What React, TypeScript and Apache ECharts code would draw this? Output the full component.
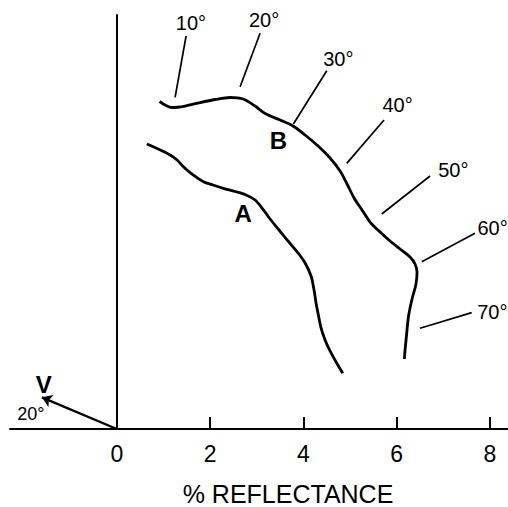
import React, { useEffect, useRef } from "react";
import * as echarts from "echarts";

// Curve B (data units: % reflectance, x horizontal, y vertical)
const curveB: [number, number][] = [
  [0.917, 7.019], [1.035, 6.944], [1.185, 6.89], [1.464, 6.922], [1.785, 6.997],
  [2.107, 7.062], [2.428, 7.105], [2.707, 7.072], [2.964, 6.922], [3.178, 6.762],
  [3.5, 6.622], [3.778, 6.494], [4.036, 6.301], [4.314, 6.065], [4.571, 5.808],
  [4.786, 5.529], [4.936, 5.251], [5.086, 4.951], [5.257, 4.694], [5.429, 4.436],
  [5.643, 4.222], [5.857, 4.029], [6.072, 3.858], [6.286, 3.686], [6.393, 3.536],
  [6.436, 3.365], [6.414, 3.108], [6.329, 2.786], [6.254, 2.422], [6.211, 2.015],
  [6.179, 1.693], [6.164, 1.5],
];

// Curve A
const curveA: [number, number][] = [
  [0.643, 6.108], [0.885, 6.001], [1.142, 5.872], [1.292, 5.765], [1.427, 5.622],
  [1.635, 5.444], [1.856, 5.3], [2.064, 5.229], [2.285, 5.159], [2.535, 5.09],
  [2.771, 5.015], [2.964, 4.908], [3.114, 4.736], [3.285, 4.501], [3.478, 4.265],
  [3.671, 4.029], [3.886, 3.772], [4.036, 3.558], [4.164, 3.279], [4.228, 2.979],
  [4.271, 2.7], [4.325, 2.422], [4.378, 2.165], [4.464, 1.907], [4.571, 1.672],
  [4.7, 1.436], [4.844, 1.194],
];

// Angle marks
const angleLabels = ["10°", "20°", "30°", "40°", "50°", "60°", "70°"];
const angleTickInner: [number, number][] = [
  [1.249, 7.109], [2.643, 7.336], [3.785, 6.537], [4.929, 5.694],
  [5.679, 4.608], [6.537, 3.586], [6.5, 2.158],
];
const angleTickOuter: [number, number][] = [
  [1.485, 8.423], [3.071, 8.481], [4.501, 7.679], [5.729, 6.622],
  [6.715, 5.422], [7.679, 4.194], [7.608, 2.493],
];
const angleLabelPos: [number, number][] = [
  [1.588, 8.701], [3.157, 8.766], [4.749, 7.934], [6.018, 6.944],
  [7.214, 5.551], [8.054, 4.301], [8.05, 2.514],
];

// Incident beam
const beamStart: [number, number] = [0, 0];
const beamEnd: [number, number] = [-1.607, 0.679];
const beamLabel = "V";
const beamLabelPos: [number, number] = [-1.565, 0.964];
const beamAngleLabel = "20°";
const beamAngleLabelPos: [number, number] = [-1.841, 0.317];

// Curve names
const curveNames = ["A", "B"];
const curveNamePos: [number, number][] = [[2.707, 4.623], [3.463, 6.183]];

// Axis
const xTickLabels = [0, 2, 4, 6, 8];
const xTickMarks = [2, 4, 6, 8];
const xAxisTitle = "% REFLECTANCE";

const FONT = "Liberation Sans";

export default function App() {
  const ref = useRef<HTMLDivElement>(null);
  useEffect(() => {
    document.body.style.margin = "0";
    if (!ref.current) return;
    const chart = echarts.init(ref.current, null, { renderer: "svg" });
    const lineStyle = { color: "#000", width: 2.8 };
    chart.setOption({
      animation: false,
      backgroundColor: "#fff",
      grid: { left: 10, right: 0, top: 15, bottom: 78 },
      xAxis: {
        type: "value",
        min: -2.29,
        max: 8.386,
        splitLine: { show: false },
        axisLine: { show: true, lineStyle: { color: "#000", width: 2 } },
        axisTick: {
          show: true,
          inside: true,
          length: 12,
          customValues: xTickMarks,
          lineStyle: { color: "#000", width: 2 },
        },
        axisLabel: {
          show: true,
          customValues: xTickLabels,
          margin: 13,
          color: "#000",
          fontFamily: FONT,
          fontSize: 23,
        },
      },
      yAxis: {
        type: "value",
        min: 0,
        max: 8.873,
        splitLine: { show: false },
        axisTick: { show: false },
        axisLabel: { show: false },
        axisLine: { show: true, onZero: true, lineStyle: { color: "#000", width: 2 } },
      },
      graphic: [
        {
          type: "text",
          x: 288,
          y: 494,
          style: {
            text: xAxisTitle,
            fill: "#000",
            font: `25px "${FONT}"`,
            textAlign: "center",
            textVerticalAlign: "middle",
          },
        },
      ],
      series: [
        {
          type: "line",
          name: "B",
          data: curveB,
          smooth: 0.3,
          showSymbol: false,
          lineStyle,
        },
        {
          type: "line",
          name: "A",
          data: curveA,
          smooth: 0.3,
          showSymbol: false,
          lineStyle,
        },
        {
          type: "lines",
          coordinateSystem: "cartesian2d",
          symbol: ["none", "none"],
          lineStyle: { color: "#000", width: 1.7, opacity: 1 },
          data: angleTickInner.map((p, i) => ({ coords: [p, angleTickOuter[i]] })),
        },
        {
          type: "lines",
          coordinateSystem: "cartesian2d",
          symbol: ["none", "arrow"],
          symbolSize: 10,
          lineStyle: { color: "#000", width: 2.4, opacity: 1 },
          data: [{ coords: [beamStart, beamEnd] }],
        },
        {
          type: "scatter",
          symbolSize: 0,
          itemStyle: { opacity: 1 },
          label: {
            show: true,
            position: "inside",
            formatter: "{b}",
            color: "#000",
            opacity: 1,
            fontFamily: FONT,
            fontSize: 20,
          },
          data: angleLabels
            .map((t, i) => ({ name: t, value: angleLabelPos[i] }))
            .concat([{ name: beamAngleLabel, value: beamAngleLabelPos, label: { fontSize: 18 } } as any]),
        },
        {
          type: "scatter",
          symbolSize: 0,
          itemStyle: { opacity: 1 },
          label: {
            show: true,
            position: "inside",
            formatter: "{b}",
            color: "#000",
            opacity: 1,
            fontFamily: FONT,
            fontWeight: "bold",
            fontSize: 24,
          },
          data: curveNames
            .map((t, i) => ({ name: t, value: curveNamePos[i] }))
            .concat([{ name: beamLabel, value: beamLabelPos }]),
        },
      ],
    });
    return () => chart.dispose();
  }, []);
  return <div ref={ref} style={{ width: 508, height: 507 }} />;
}
